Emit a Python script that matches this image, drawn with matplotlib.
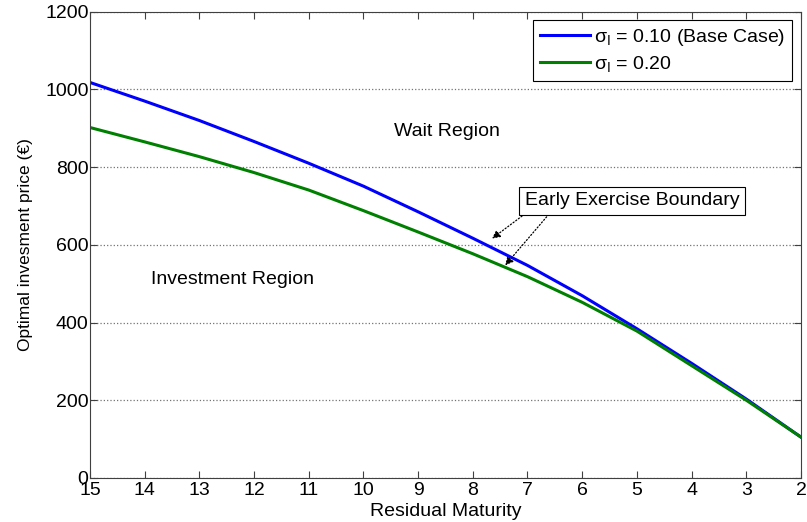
import matplotlib
matplotlib.use('Agg')
import matplotlib.pyplot as plt

plt.rcParams['font.family'] = ['Liberation Sans', 'DejaVu Sans']
plt.rcParams['mathtext.default'] = 'regular'

# residual maturity (years) and optimal investment price
maturity = [15, 14, 13, 12, 11, 10, 9, 8, 7, 6, 5, 4, 3, 2]
price_base = [1018, 970, 920, 866, 810, 751, 685, 617, 547, 469, 384, 295, 203, 105]
price_high = [902, 865, 827, 786, 741, 688, 633, 577, 518, 452, 378, 289, 200, 105]

label_base = r'$\sigma_I$ = 0.10 (Base Case)'
label_high = r'$\sigma_I$ = 0.20'

fig = plt.figure(figsize=(8.07, 5.22), dpi=100)
ax = fig.add_axes([0.1115, 0.0845, 0.881, 0.893])

ax.plot(maturity, price_base, color='#0000ff', lw=2.2, label=label_base)
ax.plot(maturity, price_high, color='#008000', lw=2.2, label=label_high)

ax.set_xlim(15, 2)
ax.set_ylim(0, 1200)
ax.set_xticks(range(2, 16))
ax.set_yticks(range(0, 1201, 200))
ax.tick_params(direction='in', top=True, right=True, length=5, labelsize=14, pad=1,
               color='0.25')
ax.tick_params(axis='x', pad=3)
for s in ax.spines.values():
    s.set_color('0.25')
ax.yaxis.grid(True, linestyle=':', color='0.45', lw=0.9)

ax.set_xlabel('Residual Maturity', fontsize=14, labelpad=3)
ax.set_ylabel('Optimal invesment price (€)', fontsize=12.5, labelpad=9)

ax.text(8.47, 891, 'Wait Region', fontsize=14, ha='center', va='center')
ax.text(12.39, 511, 'Investment Region', fontsize=14, ha='center', va='center')

# early exercise boundary callout
ax.text(5.09, 713, 'Early Exercise Boundary', fontsize=14, ha='center', va='center',
        bbox=dict(boxstyle='square,pad=0.3', fc='white', ec='black', lw=0.8))
arrow = dict(arrowstyle='-|>', linestyle=':', color='black', lw=0.9,
             mutation_scale=12, shrinkA=0, shrinkB=0)
ax.annotate('', xy=(7.65, 616), xytext=(7.10, 674), arrowprops=arrow)
ax.annotate('', xy=(7.41, 547), xytext=(6.65, 672), arrowprops=arrow)

leg = ax.legend(loc='upper right', fontsize=14, fancybox=False, framealpha=1,
                edgecolor='black', borderaxespad=0.45, handlelength=2.6,
                handletextpad=0.2, borderpad=0.35, labelspacing=0.3)
leg.get_frame().set_linewidth(0.8)

fig.savefig('out.png', dpi=100)
